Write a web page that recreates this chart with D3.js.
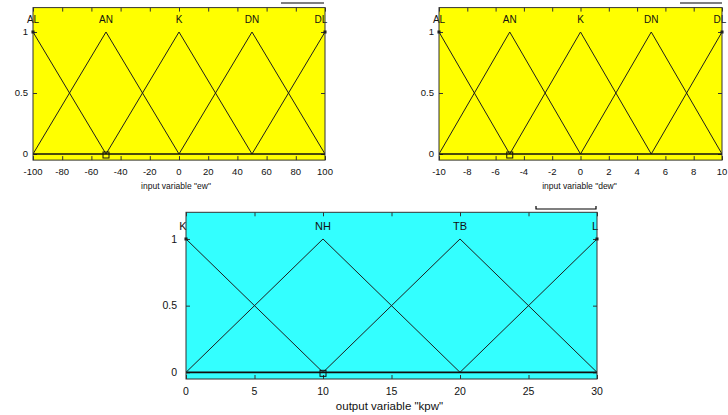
<!DOCTYPE html>
<html>
<head>
<meta charset="utf-8">
<script src="https://cdn.jsdelivr.net/npm/d3@7/dist/d3.min.js"></script>
<style>
  html, body { margin: 0; padding: 0; background: #ffffff; }
  svg { display: block; }
  text { font-family: "Liberation Sans", Arial, sans-serif; fill: #111; }
</style>
</head>
<body>
<svg id="chart" width="728" height="415"></svg>
<script>
// Membership functions (triangular: [left foot, peak, right foot])
const ewNames = ["AL", "AN", "K", "DN", "DL"];
const ewParams = [[-150, -100, -50], [-100, -50, 0], [-50, 0, 50], [0, 50, 100], [50, 100, 150]];
const ewTicks = [-100, -80, -60, -40, -20, 0, 20, 40, 60, 80, 100];

const dewNames = ["AL", "AN", "K", "DN", "DL"];
const dewParams = [[-15, -10, -5], [-10, -5, 0], [-5, 0, 5], [0, 5, 10], [5, 10, 15]];
const dewTicks = [-10, -8, -6, -4, -2, 0, 2, 4, 6, 8, 10];

const kpwNames = ["K", "NH", "TB", "L"];
const kpwParams = [[-10, 0, 10], [0, 10, 20], [10, 20, 30], [20, 30, 40]];
const kpwTicks = [0, 5, 10, 15, 20, 25, 30];

const yTicks = [0, 0.5, 1];
const yTickLabels = ["0", "0.5", "1"];

const svg = d3.select("#chart");

function drawPanel(opt) {
  const x = d3.scaleLinear().domain(opt.domain).range([opt.left, opt.right]);
  const y = d3.scaleLinear().domain([-0.05, 1.2]).range([opt.bottom, opt.top]);
  const g = svg.append("g");
  const clipId = "clip-" + opt.id;

  g.append("clipPath").attr("id", clipId)
    .append("rect")
    .attr("x", opt.left).attr("y", opt.top)
    .attr("width", opt.right - opt.left).attr("height", opt.bottom - opt.top);

  // background
  g.append("rect")
    .attr("x", opt.left).attr("y", opt.top)
    .attr("width", opt.right - opt.left).attr("height", opt.bottom - opt.top)
    .attr("fill", opt.fill);

  // inner tick marks on all four sides
  const tl = 4;
  const tickStyle = s => {
    s.select(".domain").remove();
    s.selectAll("line").attr("stroke", "#333");
  };
  g.append("g").attr("transform", `translate(0,${opt.bottom})`)
    .call(d3.axisBottom(x).tickValues(opt.ticks).tickSizeInner(-tl).tickSizeOuter(0).tickFormat(""))
    .call(tickStyle);
  g.append("g").attr("transform", `translate(0,${opt.top})`)
    .call(d3.axisTop(x).tickValues(opt.ticks).tickSizeInner(-tl).tickSizeOuter(0).tickFormat(""))
    .call(tickStyle);
  g.append("g").attr("transform", `translate(${opt.left},0)`)
    .call(d3.axisLeft(y).tickValues(yTicks).tickSizeInner(-tl).tickSizeOuter(0).tickFormat(""))
    .call(tickStyle);
  g.append("g").attr("transform", `translate(${opt.right},0)`)
    .call(d3.axisRight(y).tickValues(yTicks).tickSizeInner(-tl).tickSizeOuter(0).tickFormat(""))
    .call(tickStyle);

  // tick labels
  g.selectAll(".xl").data(opt.ticks).enter().append("text")
    .attr("x", d => x(d)).attr("y", opt.bottom + opt.tickGap)
    .attr("text-anchor", "middle")
    .style("font-size", opt.fs + "px")
    .text(d => d);
  g.selectAll(".yl").data(yTicks).enter().append("text")
    .attr("x", opt.left - opt.yGap).attr("y", d => y(d))
    .attr("dy", "0.35em")
    .attr("text-anchor", "end")
    .style("font-size", opt.fs + "px")
    .text((d, i) => yTickLabels[i]);

  // axis title
  g.append("text")
    .attr("x", (opt.left + opt.right) / 2 + opt.titleShift).attr("y", opt.bottom + opt.titleGap)
    .attr("text-anchor", "middle")
    .style("font-size", opt.titleFs + "px")
    .text(opt.title);

  // membership curves
  const line = d3.line().x(d => x(d[0])).y(d => y(d[1]));
  const curves = g.append("g").attr("clip-path", `url(#${clipId})`);
  curves.selectAll("path").data(opt.params).enter().append("path")
    .attr("d", p => line([[p[0], 0], [p[1], 1], [p[2], 0]]))
    .attr("fill", "none")
    .attr("stroke", "#1e1e1e")
    .attr("stroke-width", 1);

  // zero line
  curves.append("path")
    .attr("d", line([[opt.domain[0], 0], [opt.domain[1], 0]]))
    .attr("stroke", "#111").attr("stroke-width", 1.6);

  // peak labels (outer ones nudged to stay near the frame)
  const n = opt.params.length;
  g.selectAll(".mfl").data(opt.params).enter().append("text")
    .attr("x", (p, i) => x(p[1]) + (i === 0 ? opt.firstShift : i === n - 1 ? opt.lastShift : 0))
    .attr("y", y(1.07))
    .attr("text-anchor", "middle")
    .style("font-size", opt.labelFs + "px")
    .text((p, i) => opt.names[i]);

  // selected-point marker
  g.append("rect")
    .attr("x", x(opt.marker) - 3).attr("y", y(0) - 2)
    .attr("width", 6).attr("height", 6)
    .attr("fill", "none").attr("stroke", "#111").attr("stroke-width", 1);

  // end points of the outer curves
  [opt.params[0][1], opt.params[n - 1][1]].forEach(v => {
    g.append("rect")
      .attr("x", x(v) - 1.5).attr("y", y(1) - 1.5)
      .attr("width", 3).attr("height", 3).attr("fill", "#111");
  });

  // frame
  g.append("rect")
    .attr("x", opt.left).attr("y", opt.top)
    .attr("width", opt.right - opt.left).attr("height", opt.bottom - opt.top)
    .attr("fill", "none").attr("stroke", "#333").attr("stroke-width", 1);

  return { x, y, g };
}

drawPanel({
  id: "ew", domain: [-100, 100], left: 33, right: 325, top: 7.6, bottom: 160.1,
  fill: "#ffff00", ticks: ewTicks, params: ewParams, names: ewNames, marker: -50,
  title: "input variable \"ew\"", fs: 9.5, titleFs: 8.5, labelFs: 10,
  tickGap: 15, titleGap: 29, titleShift: -3, yGap: 5, firstShift: 0, lastShift: -4
});
drawPanel({
  id: "dew", domain: [-10, 10], left: 439, right: 722, top: 7.6, bottom: 160.1,
  fill: "#ffff00", ticks: dewTicks, params: dewParams, names: dewNames, marker: -5,
  title: "input variable \"dew\"", fs: 9.5, titleFs: 8.5, labelFs: 10,
  tickGap: 15, titleGap: 29, titleShift: -1, yGap: 5, firstShift: 0, lastShift: -2
});
drawPanel({
  id: "kpw", domain: [0, 30], left: 186, right: 597, top: 212.3, bottom: 379,
  fill: "#33ffff", ticks: kpwTicks, params: kpwParams, names: kpwNames, marker: 10,
  title: "output variable \"kpw\"", fs: 10.5, titleFs: 11.5, labelFs: 11,
  tickGap: 16, titleGap: 31, titleShift: -2, yGap: 9, firstShift: -3, lastShift: -2
});

// short black strokes above the panels
svg.append("line").attr("x1", 281).attr("x2", 324).attr("y1", 3).attr("y2", 3)
  .attr("stroke", "#000").attr("stroke-width", 1.2);
svg.append("line").attr("x1", 680).attr("x2", 722).attr("y1", 3).attr("y2", 3)
  .attr("stroke", "#000").attr("stroke-width", 1.2);
svg.append("path").attr("d", "M536,206 V209 H596 V206")
  .attr("fill", "none").attr("stroke", "#000").attr("stroke-width", 1.2);
</script>
</body>
</html>
